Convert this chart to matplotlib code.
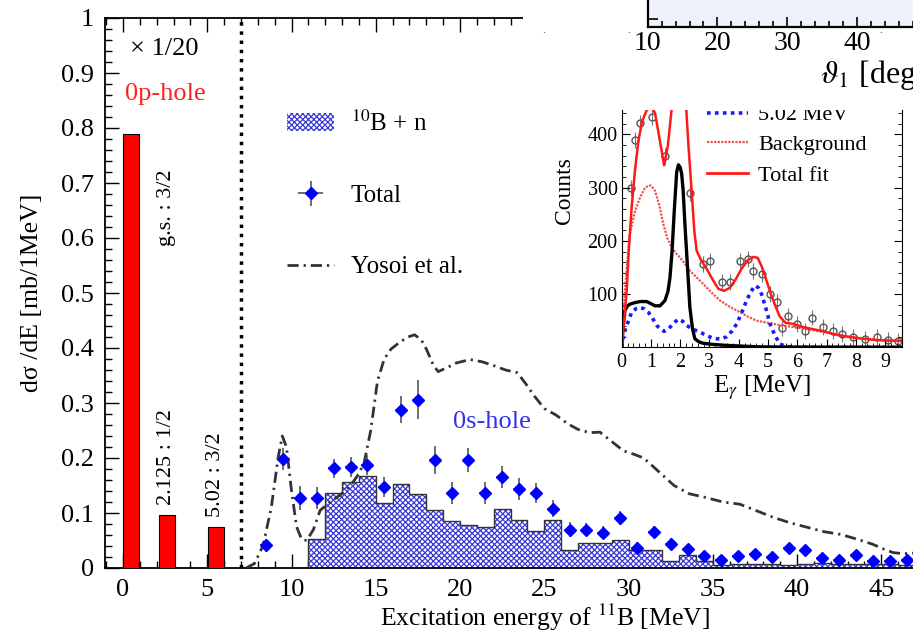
import numpy as np
import matplotlib
matplotlib.use("Agg")
import matplotlib.pyplot as plt
from matplotlib.patches import Patch, Rectangle
from matplotlib.lines import Line2D
from matplotlib.ticker import MultipleLocator, FixedLocator

plt.rcParams['font.family'] = ['Liberation Serif', 'DejaVu Serif']
plt.rcParams['mathtext.fontset'] = 'stix'
plt.rcParams['hatch.linewidth'] = 0.9

# ---- main panel data ----
bar_left = [0.0, 2.125, 5.02]
bar_height = [0.79, 0.097, 0.075]
bar_labels = ['g.s. : 3/2', '2.125 : 1/2', '5.02 : 3/2']

hist_edges = list(range(11, 48))
hist_vals = [0.052, 0.136, 0.156, 0.167, 0.118, 0.153, 0.135, 0.106, 0.085, 0.079,
             0.074, 0.108, 0.088, 0.068, 0.088, 0.032, 0.045, 0.045, 0.051, 0.033,
             0.033, 0.013, 0.024, 0.013, 0.006, 0.008, 0.008, 0.007, 0.005, 0.007,
             0.009, 0.008, 0.007, 0.007, 0.008, 0.006]

tot_E = [8.5, 9.5, 10.5, 11.5, 12.5, 13.5, 14.5, 15.5, 16.5, 17.5, 18.5, 19.5, 20.5,
         21.5, 22.5, 23.5, 24.5, 25.5, 26.5, 27.5, 28.5, 29.5, 30.5, 31.5, 32.5, 33.5,
         34.5, 35.5, 36.5, 37.5, 38.5, 39.5, 40.5, 41.5, 42.5, 43.5, 44.5, 45.5, 46.5]
tot_v = [0.041, 0.198, 0.127, 0.127, 0.181, 0.184, 0.187, 0.148, 0.288, 0.306, 0.196,
         0.137, 0.196, 0.137, 0.166, 0.143, 0.136, 0.108, 0.070, 0.070, 0.064, 0.091,
         0.037, 0.066, 0.044, 0.035, 0.022, 0.014, 0.022, 0.025, 0.020, 0.037, 0.032,
         0.019, 0.014, 0.024, 0.012, 0.012, 0.014]
tot_err = [0.012, 0.02, 0.022, 0.02, 0.018, 0.018, 0.018, 0.018, 0.025, 0.035, 0.025,
           0.02, 0.022, 0.02, 0.02, 0.02, 0.018, 0.016, 0.014, 0.012, 0.012, 0.012,
           0.01, 0.01, 0.01, 0.008, 0.008, 0.007, 0.007, 0.007, 0.007, 0.007, 0.007,
           0.006, 0.006, 0.006, 0.006, 0.006, 0.006]

yos_E = [7.3, 7.8, 8.3, 8.8, 9.2, 9.45, 9.7, 10.0, 10.3, 10.6, 10.9, 11.3, 11.7, 12.3,
         12.9, 13.5, 13.9, 14.3, 14.7, 15.1, 15.5, 15.9, 16.4, 16.9, 17.3, 17.7, 18.0,
         18.4, 18.7, 19.2, 19.8, 20.6, 21.3, 22.0, 22.7, 23.4, 23.9, 24.4, 25.0, 25.7,
         26.4, 27.0, 27.7, 28.3, 29.0, 29.7, 30.3, 30.9, 31.8, 32.7, 33.6, 34.6, 35.6,
         36.6, 37.6, 38.6, 39.6, 40.6, 41.6, 42.6, 43.6, 44.5, 45.1, 45.7, 46.3, 46.9]
yos_v = [0.0, 0.008, 0.04, 0.11, 0.20, 0.24, 0.22, 0.14, 0.075, 0.052, 0.05, 0.07,
         0.105, 0.12, 0.133, 0.15, 0.167, 0.19, 0.25, 0.34, 0.38, 0.398, 0.41, 0.42,
         0.424, 0.415, 0.398, 0.37, 0.357, 0.364, 0.373, 0.379, 0.375, 0.368, 0.36,
         0.355, 0.335, 0.313, 0.29, 0.278, 0.262, 0.252, 0.246, 0.247, 0.23, 0.213,
         0.207, 0.2, 0.175, 0.15, 0.135, 0.128, 0.12, 0.116, 0.104, 0.092, 0.082,
         0.074, 0.066, 0.061, 0.052, 0.043, 0.035, 0.028, 0.026, 0.027]

main_xticks = [0, 5, 10, 15, 20, 25, 30, 35, 40, 45]
main_yticks = [0, 0.1, 0.2, 0.3, 0.4, 0.5, 0.6, 0.7, 0.8, 0.9, 1.0]
main_ylabels = ['0', '0.1', '0.2', '0.3', '0.4', '0.5', '0.6', '0.7', '0.8', '0.9', '1']

# ---- inset data ----
fit_E = [0, 0.1, 0.17, 0.25, 0.34, 0.45, 0.57, 0.7, 0.85, 1.0, 1.14, 1.3, 1.45, 1.58,
         1.7, 1.85, 2.0, 2.15, 2.28, 2.39, 2.48, 2.56, 2.7, 2.9, 3.1, 3.3, 3.5, 3.7,
         3.9, 4.1, 4.3, 4.5, 4.65, 4.8, 4.95, 5.1, 5.25, 5.4, 5.6, 5.87, 6.2, 6.55,
         6.9, 7.23, 7.6, 8.03, 8.6, 9.0, 9.58]
fit_C = [0, 60, 106, 190, 263, 330, 388, 425, 445, 455, 440, 390, 342, 380, 444, 540,
         570, 500, 380, 294, 220, 182, 165, 148, 128, 110, 106, 112, 128, 148, 163,
         170, 168, 150, 125, 100, 78, 58, 46, 44, 38, 34, 30, 25, 21, 17.5, 14, 13, 12]

g2_E = [0, 0.05, 0.11, 0.2, 0.28, 0.45, 0.63, 0.85, 1.0, 1.14, 1.31, 1.48, 1.58, 1.65,
        1.72, 1.8, 1.88, 1.94, 2.0, 2.05, 2.1, 2.16, 2.25, 2.33, 2.42, 2.5, 2.65, 2.79,
        3.1, 3.47, 4.0, 4.6, 5.5, 9.58]
g2_C = [0, 40, 69, 78, 81, 84, 86, 86, 82, 78, 78, 88, 105, 131, 180, 260, 330, 343,
        338, 326, 295, 232, 150, 75, 35, 16, 10, 7.5, 5.5, 4, 2.5, 1, 0.5, 0]

g5_E = [0, 0.05, 0.11, 0.2, 0.34, 0.5, 0.63, 0.78, 0.91, 1.05, 1.2, 1.33, 1.45, 1.58,
        1.71, 1.83, 1.94, 2.08, 2.22, 2.4, 2.56, 2.73, 2.9, 3.08, 3.25, 3.42, 3.59,
        3.76, 3.93, 4.1, 4.27, 4.42, 4.56, 4.67, 4.78, 4.92, 5.07, 5.24, 5.41, 5.6,
        5.87, 9.58]
g5_C = [0, 18, 31, 45, 66, 73, 75, 72, 66, 55, 41, 34, 30, 34, 41, 48, 53, 49, 41, 35,
        31, 27, 22, 18, 16, 16, 20, 30, 44, 65, 88, 105, 116, 112, 100, 75, 44, 22, 6,
        2, 0, 0]

bg_E = [0, 0.05, 0.11, 0.2, 0.28, 0.45, 0.63, 0.78, 0.91, 1.0, 1.14, 1.28, 1.42, 1.56,
        1.71, 1.85, 1.99, 2.15, 2.33, 2.55, 2.79, 3.05, 3.36, 3.7, 4.04, 4.3, 4.61,
        4.9, 5.18, 5.5, 5.87, 6.25, 6.66, 7.05, 7.46, 7.9, 8.37, 8.9, 9.58]
bg_C = [0, 50, 106, 165, 213, 255, 282, 298, 304, 304, 294, 268, 232, 205, 188, 177,
        169, 158, 144, 132, 119, 104, 88, 76, 66, 58, 50, 47, 44, 41, 38, 35, 31, 27,
        22, 19, 16, 13, 11]

dat_E = [0.31, 0.45, 0.63, 1.03, 1.48, 2.33, 2.79, 3.02, 3.42, 3.7, 4.04, 4.33, 4.5,
         4.78, 5.07, 5.3, 5.47, 5.69, 5.98, 6.26, 6.49, 6.89, 7.23, 7.52, 7.92, 8.31,
         8.71, 9.11, 9.45]
dat_C = [299, 390, 421, 433, 360, 290, 157, 163, 122, 122, 163, 166, 144, 138, 100, 85,
         36, 59, 44, 31, 56, 38, 31, 25, 19, 16, 19, 14, 11]

inset_legend = ['5.02 MeV', 'Background', 'Total fit']

W, H = 913, 640
fig = plt.figure(figsize=(W / 100, H / 100), dpi=100)

# main axes
ax = fig.add_axes([105 / W, (H - 568) / H, (W - 105) / W, 550 / H])
ax.set_xlim(-1.07, 46.88)
ax.set_ylim(0, 1)

ax.bar(bar_left, bar_height, width=0.95, align='edge', color='#ff0000',
       edgecolor='black', linewidth=0.8, zorder=3)

hcol = '#3a3ad8'
ax.stairs(hist_vals, hist_edges, fill=True, facecolor='white', edgecolor=hcol,
          hatch='xxxxxx', linewidth=0, zorder=2)
ax.stairs(hist_vals, hist_edges, baseline=0, color='#333333', linewidth=1.0, zorder=2.5)

ax.plot(yos_E, yos_v, color='#333333', linewidth=2.0, dashes=(4, 1.8, 0.8, 1.8),
        zorder=4)
eb = ax.errorbar(tot_E, tot_v, yerr=tot_err, xerr=0.35, fmt='D', color='#0000ff',
                 markersize=6, ecolor='#555555', elinewidth=1.2, capsize=0, zorder=5)

ax.axvline(7.0, color='black', linestyle=':', linewidth=2.5, zorder=3)

ax.text(0.4, 0.943, '\u00d7 1/20', fontsize=19, va='center', ha='left')
ax.text(0.1, 0.862, '0p-hole', fontsize=19, color='#ff2020', va='center', ha='left')
ax.text(2.55, 0.655, bar_labels[0], fontsize=16, rotation=90, ha='center', va='center')
ax.text(2.55, 0.202, bar_labels[1], fontsize=16, rotation=90, ha='center', va='center')
ax.text(5.46, 0.17, bar_labels[2], fontsize=16, rotation=90, ha='center', va='center')
ax.text(21.9, 0.265, '0s-hole', fontsize=19, color='#3030ee', ha='center', va='center')

handles = [Patch(facecolor='white', edgecolor=hcol, hatch='xxxxxx', linewidth=0),
           eb,
           Line2D([], [], color='#333333', linewidth=2.0, dashes=(4, 1.8, 0.8, 1.8))]
ax.legend(handles, ['$^{10}$B + n', 'Total', 'Yosoi et al.'], loc='upper left',
          bbox_to_anchor=(0.225, 0.832), frameon=False, fontsize=18,
          labelspacing=1.95, handlelength=1.9, handletextpad=0.65, borderpad=0,
          borderaxespad=0)

ax.set_xticks(main_xticks)
ax.set_yticks(main_yticks)
ax.set_yticklabels(main_ylabels)
ax.xaxis.set_minor_locator(MultipleLocator(1))
ax.yaxis.set_minor_locator(MultipleLocator(0.02))
ax.tick_params(which='both', direction='in', top=True, right=False, labelsize=19,
               width=1.0)
ax.tick_params(which='major', length=10)
ax.tick_params(which='minor', length=5)
ax.tick_params(axis='x', pad=8)
ax.tick_params(axis='y', pad=8)
ax.spines['right'].set_visible(False)
for s in ['left', 'bottom', 'top']:
    ax.spines[s].set_linewidth(1.3)

ax.set_xlabel('Excitation energy of $^{11}$B [MeV]', fontsize=18.5)
ax.xaxis.set_label_coords((545 - 105) / 808, -0.062)
ax.set_ylabel('d\u03c3 /dE [mb/1MeV]', fontsize=18.5)
ax.yaxis.set_label_coords(-0.077, 0.5)

# cover the top spine where the picture was cropped
fig.patches.append(Rectangle((523 / W, (H - 32) / H), 1, 32 / H, transform=fig.transFigure,
                             facecolor='white', edgecolor='none', zorder=5))

# inset
axi = fig.add_axes([621.7 / W, (H - 347.3) / H, (902 - 621.7) / W, (347.3 - 110) / H])
axi.set_zorder(10)
axi.set_xlim(0, 9.58)
axi.set_ylim(0, 446)
axi.plot(bg_E, bg_C, color='#ee5050', linestyle=(0, (1, 0.6)), linewidth=1.6)
axi.plot(g5_E, g5_C, color='#1a1aff', linestyle=(0, (1, 1.2)), linewidth=2.6)
axi.plot(g2_E, g2_C, color='black', linewidth=2.4)
axi.plot(fit_E, fit_C, color='#ff1a1a', linewidth=1.8)
axi.errorbar(dat_E, dat_C, yerr=15, fmt='o', mfc='none', mec='#555555', ecolor='#777777',
             markersize=5, elinewidth=0.8, capsize=0, zorder=1)

leg_x = [2.9, 4.33]
for y_leg, ls, col, lw, lab in [(441, (0, (1, 1.2)), '#1a1aff', 2.6, inset_legend[0]),
                                (386, (0, (1, 0.6)), '#ee5050', 1.6, inset_legend[1]),
                                (327, '-', '#ff1a1a', 2.0, inset_legend[2])]:
    axi.plot(leg_x, [y_leg, y_leg], color=col, linestyle=ls, linewidth=lw)
    axi.text(4.66, y_leg - 6, lab, fontsize=16, va='center', ha='left', clip_on=True)

axi.xaxis.set_major_locator(MultipleLocator(1))
axi.xaxis.set_minor_locator(MultipleLocator(0.2))
axi.yaxis.set_major_locator(FixedLocator([100, 200, 300, 400]))
axi.yaxis.set_minor_locator(MultipleLocator(20))
axi.tick_params(which='both', direction='in', right=True, top=False, labelsize=14.5)
axi.tick_params(which='major', length=6)
axi.tick_params(which='minor', length=3)
axi.tick_params(axis='x', pad=4)
axi.tick_params(axis='y', pad=3)
axi.spines['top'].set_visible(False)
axi.set_xlabel('E$_{\\gamma}$ [MeV]', fontsize=18, labelpad=1)
axi.set_ylabel('Counts', fontsize=17)
axi.yaxis.set_label_coords(-0.165, 0.66)

# cropped upper-right panel
axt = fig.add_axes([647.7 / W, (H - 27) / H, (960 - 647.7) / W, 0.08])
axt.set_zorder(10)
axt.set_facecolor('#eef2fc')
axt.set_xlim(10, 10 + (960 - 647.7) / 6.97)
axt.set_ylim(0, 1)
axt.xaxis.set_major_locator(MultipleLocator(10))
axt.xaxis.set_minor_locator(MultipleLocator(2))
axt.set_yticks([0.15, 0.6])
axt.set_yticklabels([])
axt.tick_params(which='both', direction='in', labelsize=20, top=False)
axt.tick_params(which='major', length=7, width=1.2)
axt.tick_params(which='minor', length=4, width=1.2)
axt.tick_params(axis='x', pad=3)
for s in axt.spines.values():
    s.set_linewidth(1.6)
fig.text(820 / W, (H - 75) / H, '$\\vartheta_{1}$ [deg]', fontsize=23, va='center',
         ha='left')

fig.savefig('out.png', dpi=100)
